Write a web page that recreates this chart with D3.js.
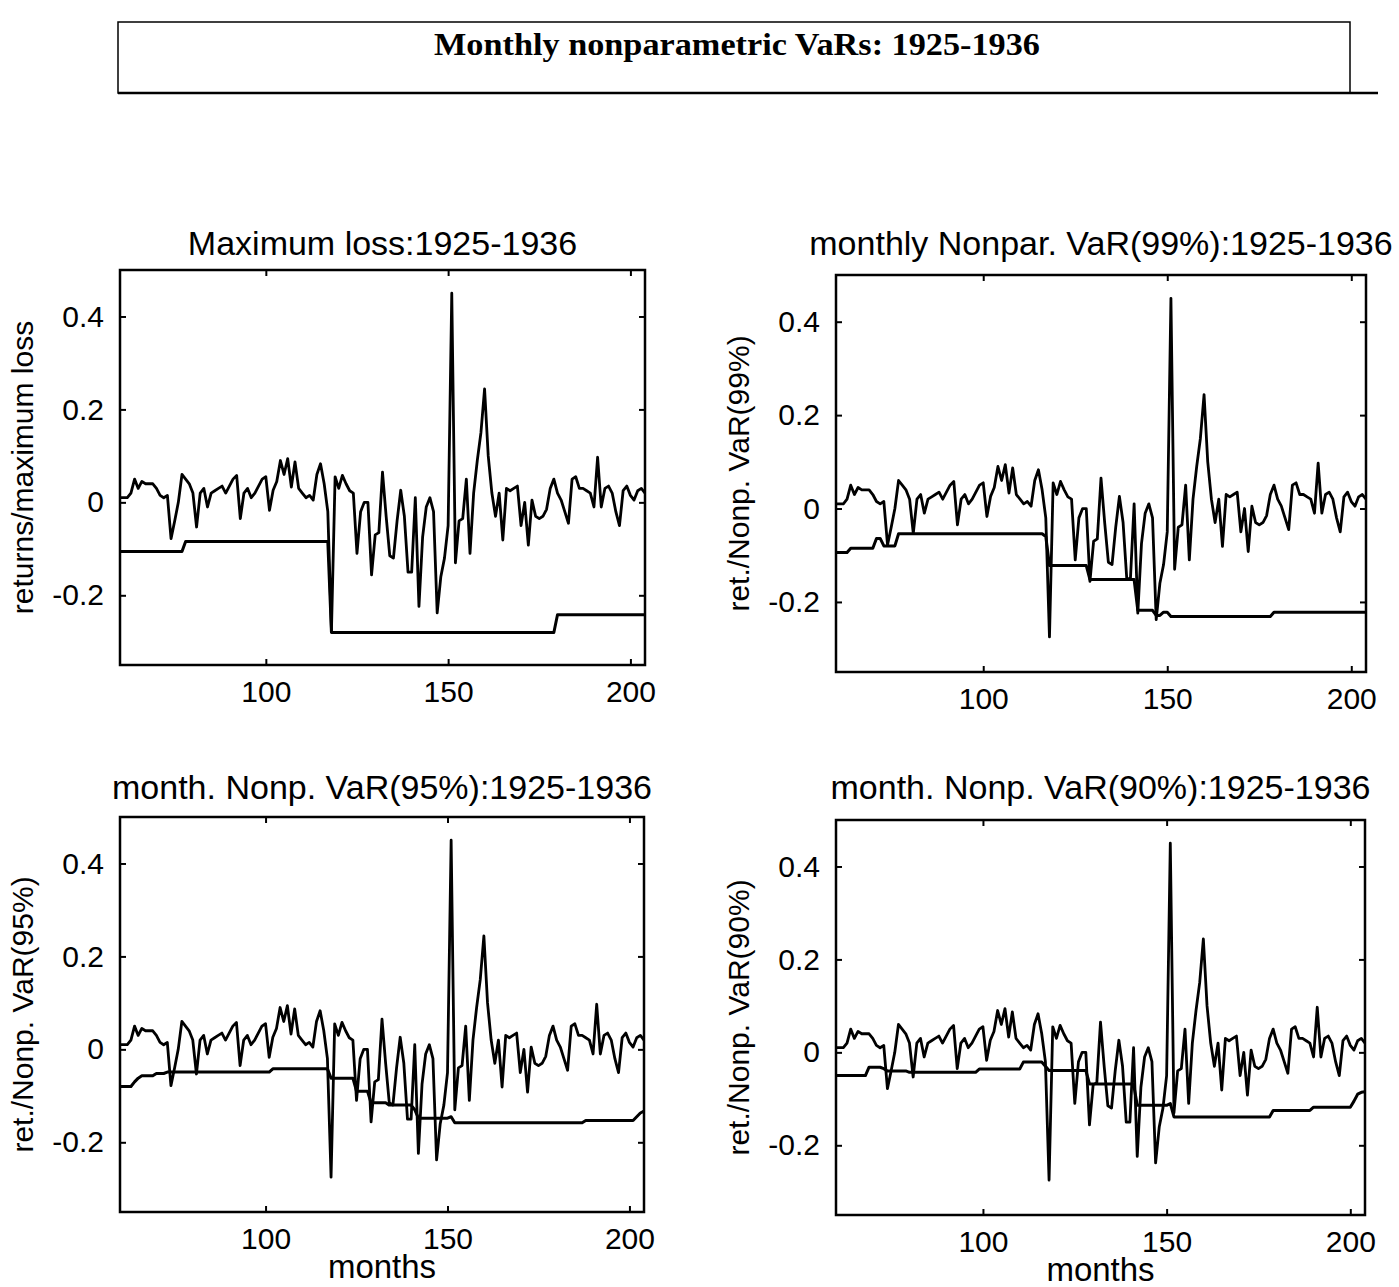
<!DOCTYPE html>
<html>
<head>
<meta charset="utf-8">
<script src="https://cdn.jsdelivr.net/npm/d3@7"></script>
<style>
  body { margin: 0; background: #fff; }
  text { font-family: "Liberation Sans", Arial, sans-serif; fill: #000; }
</style>
</head>
<body>
<svg id="fig" width="1399" height="1287"></svg>
<script>
// months 60..204 (window ends), one value per month
const firstMonth = 60;

const returns = [
  0.01, 0.01, 0.01, 0.02, 0.05, 0.03, 0.045, 0.04, 0.04, 0.04,
  0.03, 0.015, 0.01, 0.015, -0.078, -0.04, 0.0, 0.06, 0.05, 0.04,
  0.02, -0.053, 0.02, 0.03, -0.01, 0.02, 0.025, 0.03, 0.035, 0.02,
  0.035, 0.05, 0.058, -0.035, 0.02, 0.03, 0.01, 0.02, 0.035, 0.05,
  0.055, -0.017, 0.026, 0.045, 0.09, 0.06, 0.094, 0.033, 0.087, 0.03,
  0.02, 0.01, 0.015, 0.005, 0.06, 0.083, 0.04, -0.02, -0.275, 0.055,
  0.03, 0.058, 0.04, 0.025, 0.02, -0.11, -0.02, 0.0, 0.0, -0.156,
  -0.07, -0.065, 0.065, -0.03, -0.115, -0.12, -0.04, 0.026, -0.03, -0.15,
  -0.15, 0.01, -0.224, -0.075, -0.01, 0.01, -0.02, -0.238, -0.16, -0.12,
  -0.05, 0.45, -0.13, -0.04, -0.035, 0.05, -0.11, 0.02, 0.09, 0.15,
  0.244, 0.1, 0.02, -0.03, 0.02, -0.081, 0.03, 0.025, 0.03, 0.035,
  -0.05, 0.0, -0.092, 0.005, -0.03, -0.035, -0.03, -0.015, 0.03, 0.05,
  0.02, 0.005, -0.02, -0.045, 0.05, 0.055, 0.03, 0.03, 0.025, 0.02,
  -0.01, 0.097, -0.01, 0.03, 0.035, 0.02, -0.02, -0.05, 0.025, 0.035,
  0.015, 0.005, 0.025, 0.03, 0.02
];

const maxLoss = [
  -0.106, -0.106, -0.106, -0.106, -0.106, -0.106, -0.106, -0.106, -0.106, -0.106,
  -0.106, -0.106, -0.106, -0.106, -0.106, -0.106, -0.106, -0.106, -0.084, -0.084,
  -0.084, -0.084, -0.084, -0.084, -0.084, -0.084, -0.084, -0.084, -0.084, -0.084,
  -0.084, -0.084, -0.084, -0.084, -0.084, -0.084, -0.084, -0.084, -0.084, -0.084,
  -0.084, -0.084, -0.084, -0.084, -0.084, -0.084, -0.084, -0.084, -0.084, -0.084,
  -0.084, -0.084, -0.084, -0.084, -0.084, -0.084, -0.084, -0.084, -0.28, -0.28,
  -0.28, -0.28, -0.28, -0.28, -0.28, -0.28, -0.28, -0.28, -0.28, -0.28,
  -0.28, -0.28, -0.28, -0.28, -0.28, -0.28, -0.28, -0.28, -0.28, -0.28,
  -0.28, -0.28, -0.28, -0.28, -0.28, -0.28, -0.28, -0.28, -0.28, -0.28,
  -0.28, -0.28, -0.28, -0.28, -0.28, -0.28, -0.28, -0.28, -0.28, -0.28,
  -0.28, -0.28, -0.28, -0.28, -0.28, -0.28, -0.28, -0.28, -0.28, -0.28,
  -0.28, -0.28, -0.28, -0.28, -0.28, -0.28, -0.28, -0.28, -0.28, -0.28,
  -0.242, -0.242, -0.242, -0.242, -0.242, -0.242, -0.242, -0.242, -0.242, -0.242,
  -0.242, -0.242, -0.242, -0.242, -0.242, -0.242, -0.242, -0.242, -0.242, -0.242,
  -0.242, -0.242, -0.242, -0.242, -0.242
];

const var99 = [
  -0.094, -0.094, -0.094, -0.094, -0.085, -0.085, -0.085, -0.085, -0.085, -0.085,
  -0.085, -0.064, -0.064, -0.08, -0.08, -0.08, -0.08, -0.054, -0.054, -0.054,
  -0.054, -0.054, -0.054, -0.054, -0.054, -0.054, -0.054, -0.054, -0.054, -0.054,
  -0.054, -0.054, -0.054, -0.054, -0.054, -0.054, -0.054, -0.054, -0.054, -0.054,
  -0.054, -0.054, -0.054, -0.054, -0.054, -0.054, -0.054, -0.054, -0.054, -0.054,
  -0.054, -0.054, -0.054, -0.054, -0.054, -0.054, -0.054, -0.06, -0.122, -0.122,
  -0.122, -0.122, -0.122, -0.122, -0.122, -0.122, -0.122, -0.122, -0.122, -0.152,
  -0.152, -0.152, -0.152, -0.152, -0.152, -0.152, -0.152, -0.152, -0.152, -0.152,
  -0.152, -0.152, -0.218, -0.218, -0.218, -0.218, -0.218, -0.229, -0.229, -0.222,
  -0.222, -0.231, -0.231, -0.231, -0.231, -0.231, -0.231, -0.231, -0.231, -0.231,
  -0.231, -0.231, -0.231, -0.231, -0.231, -0.231, -0.231, -0.231, -0.231, -0.231,
  -0.231, -0.231, -0.231, -0.231, -0.231, -0.231, -0.231, -0.231, -0.231, -0.222,
  -0.222, -0.222, -0.222, -0.222, -0.222, -0.222, -0.222, -0.222, -0.222, -0.222,
  -0.222, -0.222, -0.222, -0.222, -0.222, -0.222, -0.222, -0.222, -0.222, -0.222,
  -0.222, -0.222, -0.222, -0.222, -0.222
];

const var95 = [
  -0.08, -0.08, -0.08, -0.08, -0.07, -0.062, -0.057, -0.057, -0.057, -0.057,
  -0.052, -0.052, -0.052, -0.049, -0.049, -0.049, -0.049, -0.049, -0.049, -0.049,
  -0.049, -0.049, -0.049, -0.049, -0.049, -0.049, -0.049, -0.049, -0.049, -0.049,
  -0.049, -0.049, -0.049, -0.049, -0.049, -0.049, -0.049, -0.049, -0.049, -0.049,
  -0.049, -0.049, -0.042, -0.042, -0.042, -0.042, -0.042, -0.042, -0.042, -0.042,
  -0.042, -0.042, -0.042, -0.042, -0.042, -0.042, -0.042, -0.042, -0.062, -0.062,
  -0.062, -0.062, -0.062, -0.062, -0.062, -0.09, -0.09, -0.09, -0.09, -0.115,
  -0.115, -0.115, -0.115, -0.115, -0.12, -0.12, -0.12, -0.12, -0.12, -0.12,
  -0.12, -0.13, -0.148, -0.148, -0.148, -0.148, -0.148, -0.148, -0.148, -0.148,
  -0.148, -0.145, -0.158, -0.158, -0.158, -0.158, -0.158, -0.158, -0.158, -0.158,
  -0.158, -0.158, -0.158, -0.158, -0.158, -0.158, -0.158, -0.158, -0.158, -0.158,
  -0.158, -0.158, -0.158, -0.158, -0.158, -0.158, -0.158, -0.158, -0.158, -0.158,
  -0.158, -0.158, -0.158, -0.158, -0.158, -0.158, -0.158, -0.158, -0.153, -0.153,
  -0.153, -0.153, -0.153, -0.153, -0.153, -0.153, -0.153, -0.153, -0.153, -0.153,
  -0.153, -0.153, -0.145, -0.137, -0.133
];

const var90 = [
  -0.05, -0.05, -0.05, -0.05, -0.05, -0.05, -0.05, -0.05, -0.05, -0.032,
  -0.032, -0.032, -0.032, -0.035, -0.04, -0.04, -0.04, -0.04, -0.04, -0.04,
  -0.043, -0.043, -0.043, -0.043, -0.043, -0.043, -0.043, -0.043, -0.043, -0.043,
  -0.043, -0.043, -0.043, -0.043, -0.043, -0.043, -0.043, -0.043, -0.043, -0.036,
  -0.036, -0.036, -0.036, -0.036, -0.036, -0.036, -0.036, -0.036, -0.036, -0.036,
  -0.036, -0.021, -0.021, -0.021, -0.021, -0.021, -0.021, -0.03, -0.039, -0.039,
  -0.039, -0.039, -0.039, -0.039, -0.039, -0.039, -0.039, -0.039, -0.039, -0.068,
  -0.068, -0.068, -0.068, -0.068, -0.068, -0.068, -0.068, -0.068, -0.068, -0.068,
  -0.068, -0.068, -0.114, -0.114, -0.114, -0.114, -0.114, -0.114, -0.114, -0.114,
  -0.114, -0.11, -0.139, -0.139, -0.139, -0.139, -0.139, -0.139, -0.139, -0.139,
  -0.139, -0.139, -0.139, -0.139, -0.139, -0.139, -0.139, -0.139, -0.139, -0.139,
  -0.139, -0.139, -0.139, -0.139, -0.139, -0.139, -0.139, -0.139, -0.139, -0.125,
  -0.125, -0.125, -0.125, -0.125, -0.125, -0.125, -0.125, -0.125, -0.125, -0.125,
  -0.118, -0.118, -0.118, -0.118, -0.118, -0.118, -0.118, -0.118, -0.118, -0.118,
  -0.118, -0.105, -0.09, -0.086, -0.085
];

const xTicks = [100, 150, 200];
const yTicks = [-0.2, 0, 0.2, 0.4];
const figTitle = "Monthly nonparametric VaRs: 1925-1936";

const panels = [
  { title: "Maximum loss:1925-1936", ylabel: "returns/maximum loss", risk: maxLoss,
    box: { l: 120, r: 645, t: 270, b: 665 }, titleY: 255, xlabel: null },
  { title: "monthly Nonpar. VaR(99%):1925-1936", ylabel: "ret./Nonp. VaR(99%)", risk: var99,
    box: { l: 836, r: 1366, t: 275, b: 672 }, titleY: 255, xlabel: null },
  { title: "month. Nonp. VaR(95%):1925-1936", ylabel: "ret./Nonp. VaR(95%)", risk: var95,
    box: { l: 120, r: 644, t: 817, b: 1212 }, titleY: 799, xlabel: "months" },
  { title: "month. Nonp. VaR(90%):1925-1936", ylabel: "ret./Nonp. VaR(90%)", risk: var90,
    box: { l: 836, r: 1365, t: 820, b: 1215 }, titleY: 799, xlabel: "months" }
];

const svg = d3.select("#fig");

// header box (scanned frame, bottom edge runs a bit longer)
const head = svg.append("g").attr("class", "header");
head.append("rect")
  .attr("x", 118).attr("y", 22).attr("width", 1232).attr("height", 71)
  .attr("fill", "none").attr("stroke", "#000").attr("stroke-width", 1.5);
head.append("line")
  .attr("x1", 118).attr("x2", 1378).attr("y1", 93).attr("y2", 93)
  .attr("stroke", "#000").attr("stroke-width", 2.5);
head.append("text")
  .attr("x", 737).attr("y", 55)
  .attr("text-anchor", "middle")
  .attr("textLength", 606).attr("lengthAdjust", "spacingAndGlyphs")
  .style("font-family", "'Liberation Serif', 'Times New Roman', serif")
  .style("font-weight", "bold").style("font-size", "31px")
  .text(figTitle);

const fmt = d => d === 0 ? "0" : d.toFixed(1);

function drawPanel(p) {
  const { l, r, t, b } = p.box;
  const x = d3.scaleLinear().domain([firstMonth, firstMonth + returns.length - 1]).range([l, r]);
  const y = d3.scaleLinear().domain([-0.35, 0.5]).range([b, t]);
  const g = svg.append("g").attr("class", "panel");

  // inward ticks on all four sides
  const tk = 6;
  g.append("g").attr("transform", `translate(${l},0)`)
    .call(d3.axisLeft(y).tickValues(yTicks).tickSize(-tk).tickFormat(fmt).tickPadding(16));
  g.append("g").attr("transform", `translate(${r},0)`)
    .call(d3.axisRight(y).tickValues(yTicks).tickSize(-tk).tickFormat(""));
  g.append("g").attr("transform", `translate(0,${b})`)
    .call(d3.axisBottom(x).tickValues(xTicks).tickSize(-tk).tickPadding(16));
  g.append("g").attr("transform", `translate(0,${t})`)
    .call(d3.axisTop(x).tickValues(xTicks).tickSize(-tk).tickFormat(""));
  g.selectAll(".domain").remove();
  g.selectAll(".tick line").attr("stroke", "#000").attr("stroke-width", 2);
  g.selectAll(".tick text")
    .style("font-family", "'Liberation Sans', Arial, sans-serif")
    .style("font-size", "30px").attr("fill", "#000");

  g.append("rect")
    .attr("x", l).attr("y", t).attr("width", r - l).attr("height", b - t)
    .attr("fill", "none").attr("stroke", "#000").attr("stroke-width", 2.5);

  const line = d3.line()
    .x((d, i) => x(firstMonth + i))
    .y(d => y(d));

  g.append("path").datum(p.risk)
    .attr("d", line).attr("fill", "none")
    .attr("stroke", "#000").attr("stroke-width", 3).attr("stroke-linejoin", "round");
  g.append("path").datum(returns)
    .attr("d", line).attr("fill", "none")
    .attr("stroke", "#000").attr("stroke-width", 2.8).attr("stroke-linejoin", "round");

  g.append("text")
    .attr("x", (l + r) / 2).attr("y", p.titleY)
    .attr("text-anchor", "middle").style("font-size", "34px")
    .text(p.title);

  g.append("text")
    .attr("transform", `translate(${l - 98},${(t + b) / 2}) rotate(-90)`)
    .attr("text-anchor", "middle").attr("dominant-baseline", "central")
    .style("font-size", "30px")
    .text(p.ylabel);

  if (p.xlabel) {
    g.append("text")
      .attr("x", (l + r) / 2).attr("y", b + 66)
      .attr("text-anchor", "middle").style("font-size", "33px")
      .text(p.xlabel);
  }
}

panels.forEach(drawPanel);
</script>
</body>
</html>
